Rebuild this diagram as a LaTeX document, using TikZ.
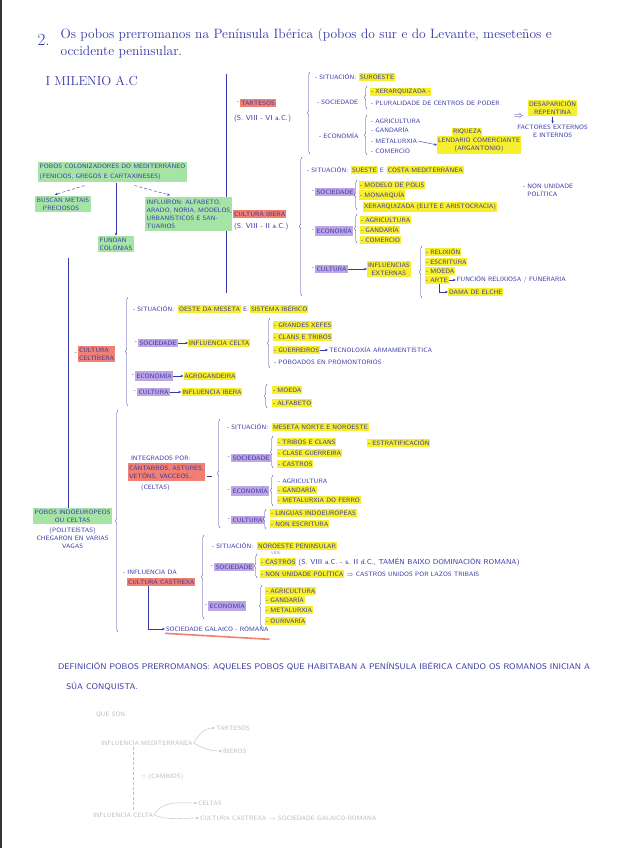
\documentclass[tikz,border=0pt]{standalone}
\usepackage{fontspec}
\usepackage{tikz}
\usetikzlibrary{arrows.meta, positioning, decorations.pathreplacing}
\definecolor{ink}{RGB}{55, 55, 165}
\definecolor{hlyellow}{RGB}{247, 238, 45}
\definecolor{hlpurple}{RGB}{190, 165, 228}
\definecolor{hlred}{RGB}{240, 128, 115}
\definecolor{hlgreen}{RGB}{165, 228, 165}
\definecolor{fadegray}{RGB}{190, 190, 195}
\newcommand{\hand}{\sffamily\fontsize{6.3}{8}\selectfont}

\begin{document}
\begin{tikzpicture}[x=1pt, y=-1pt, >={Stealth[length=3pt, width=2.4pt]},
  lbl/.style={font=\hand, text=ink, inner sep=0.8pt, anchor=west},
  hly/.style={lbl, fill=hlyellow, inner ysep=1.6pt},
  hlp/.style={lbl, fill=hlpurple, inner ysep=2pt, inner xsep=1.5pt},
  hlr/.style={lbl, fill=hlred, inner ysep=1.6pt},
  hlg/.style={lbl, fill=hlgreen, inner ysep=1.8pt, inner xsep=1.5pt},
  faint/.style={lbl, text=fadegray},
  ticklbl/.style={font=\hand, text=ink, inner sep=0.6pt},
  lead/.style={label={[ticklbl]left:-}},
  brk/.style={ink, thin, decorate, decoration={brace, amplitude=2.5pt}},
  link/.style={ink, thin, ->}]

  % page
  \fill[white] (0,0) rectangle (616,848);
  \useasboundingbox (0,0) rectangle (616,848);
  \draw[black!80, line width=2pt] (1,0) -- (1,848);

  % ---------- Title ----------
  \node[text=ink, font=\fontsize{17}{17}\selectfont, anchor=west] (num) at (34,40) {2.};
  \node[text=ink, font=\fontsize{13.5}{17}\selectfont, anchor=west, align=left] (title) at (57,43)
    {Os pobos prerromanos na Península Ibérica (pobos do sur e do Levante, meseteños e\\occidente peninsular.};
  \node[text=ink, font=\fontsize{13}{13}\selectfont, anchor=west] (mil) at (42,81) {I MILENIO A.C};

  % trunks
  \draw[ink] (226,74) -- (226,293);
  \coordinate (trunk) at (68,258);

  % ---------- Colonizadores ----------
  \node[hlg, align=left] (colon) at (38,172) {POBOS COLONIZADORES DO MEDITERRÁNEO\\[2pt](FENICIOS, GREGOS E CARTAXINESES)};
  \node[hlg, align=left] (busc) at (35,204) {BUSCAN METAIS\\\quad PRECIOSOS};
  \node[hlg, align=left] (fund) at (98,244) {FUNDAN\\COLONIAS};
  \node[hlg, align=left] (infl) at (145,214) {INFLUÍRON: ALFABETO,\\ARADO, NORIA, MODELOS\\URBANÍSTICOS E SAN-\\TUARIOS};
  \draw[link, densely dashed] ([xshift=-28pt, yshift=-3pt]colon.south) -- ([xshift=-8pt, yshift=1pt]busc.north);
  \draw[link] (colon.south -| fund.north) -- (fund.north);
  \draw[link, densely dashed] ([xshift=22pt, yshift=-3pt]colon.south) -- ([xshift=25pt, yshift=2pt]infl.north west);

  % ---------- Tartesos ----------
  \node[hlr, lead] (tar) at (240,103) {TARTESOS};
  \node[lbl, font=\sffamily\fontsize{7.2}{8}\selectfont] (tarDate) at (233,119) {(S. VIII - VI a.C.)};
  \draw[brk] (310,154) -- (310,72);
  \node[lbl] (tarSit) at (314,77) {- SITUACIÓN:};
  \node[hly, right=2pt of tarSit] (tarSit1) {SUROESTE};
  \node[lbl] (tarSoc) at (316,102) {- SOCIEDADE};
  \draw[brk] (367,109) -- (367,86);
  \node[hly] (tarSoc1) at (370,92) {- XERARQUIZADA -};
  \node[lbl] (tarSoc2) at (370,103) {- PLURALIDADE DE CENTROS DE PODER};
  \node[lbl] (tarEco) at (318,136) {- ECONOMÍA};
  \draw[brk] (367,155) -- (367,115);
  \node[lbl] (tarEco1) at (370,121) {- AGRICULTURA};
  \node[lbl] (tarEco2) at (370,130) {- GANDARÍA};
  \node[lbl] (tarEco3) at (370,141) {- METALURXIA};
  \node[lbl] (tarEco4) at (370,151) {- COMERCIO};
  \node[hly] (riq) at (452,132) {RIQUEZA};
  \node[hly, align=center] (lend) at (437,145) {LENDARIO COMERCIANTE\\(ARGANTONIO)};
  \draw[link] (tarEco3.east) -- (lend.west);
  \node[text=ink, anchor=west] (impl) at (510,117) {$\Rightarrow$};
  \node[hly, align=center] (desap) at (528,108) {DESAPARICIÓN\\REPENTINA};
  \node[lbl, anchor=north, align=center, below=7pt of desap] (fact) {FACTORES EXTERNOS\\E INTERNOS};
  \draw[link] (desap) -- (fact);

  % ---------- Cultura ibera ----------
  \node[hlr, lead] (ibe) at (233,214) {CULTURA IBERA};
  \node[lbl, font=\sffamily\fontsize{7.2}{8}\selectfont] (ibeDate) at (233,227) {(S. VIII - II a.C.)};
  \draw[brk] (302,296) -- (302,157);
  \node[lbl] (ibeSit) at (306,170) {- SITUACIÓN:};
  \node[hly, right=2pt of ibeSit] (ibeSit1) {SUESTE};
  \node[lbl, right=1pt of ibeSit1] (ibeSitE) {E};
  \node[hly, right=2pt of ibeSitE] (ibeSit2) {COSTA MEDITERRÁNEA};
  \node[hlp, lead] (ibeSoc) at (315,192) {SOCIEDADE};
  \draw[brk] (357,210) -- (357,180);
  \node[hly] (ibeSoc1) at (359,185) {- MODELO DE POLIS};
  \node[hly] (ibeSoc2) at (359,195) {- MONARQUÍA};
  \node[hly] (ibeSoc3) at (363,207) {XERARQUIZADA (ELITE E ARISTOCRACIA)};
  \node[lbl, align=left] (ibeNon) at (522,190) {- NON UNIDADE\\\ \ POLÍTICA};
  \node[hlp, lead] (ibeEco) at (315,231) {ECONOMÍA};
  \draw[brk] (357,243) -- (357,214);
  \node[hly] (ibeEco1) at (360,220) {- AGRICULTURA};
  \node[hly] (ibeEco2) at (360,230) {- GANDARÍA};
  \node[hly] (ibeEco3) at (360,240) {- COMERCIO};
  \node[hlp, lead] (ibeCul) at (315,269) {CULTURA};
  \node[hly, align=center] (ibeInf) at (367,269) {INFLUENCIAS\\EXTERNAS};
  \draw[link] (ibeCul) -- (ibeInf);
  \draw[brk] (422,298) -- (422,246);
  \node[hly] (ibeCul1) at (425,252) {- RELIXIÓN};
  \node[hly] (ibeCul2) at (425,262) {- ESCRITURA};
  \node[hly] (ibeCul3) at (425,271) {- MOEDA};
  \node[hly] (ibeArte) at (425,280) {- ARTE};
  \node[lbl, right=7pt of ibeArte] (ibeFun) {FUNCIÓN RELIXIOSA / FUNERARIA};
  \draw[link] (ibeArte) -- (ibeFun);
  \node[hly] (dama) at (448,292) {DAMA DE ELCHE};
  \draw[link] ([xshift=14pt]ibeArte.south west) |- (dama.west);

  % ---------- Cultura celtibera ----------
  \node[hlr, lead, align=left] (celt) at (78,354) {CULTURA\\CELTÍBERA};
  \draw[brk] (128,406) -- (128,297);
  \node[lbl] (celSit) at (132,309) {- SITUACIÓN:};
  \node[hly, right=3pt of celSit] (celSit1) {OESTE DA MESETA};
  \node[lbl, right=1pt of celSit1] (celSitE) {E};
  \node[hly, right=2pt of celSitE] (celSit2) {SISTEMA IBÉRICO};
  \node[hlp, lead] (celSoc) at (138,343) {SOCIEDADE};
  \node[hly, right=10pt of celSoc] (celInf) {INFLUENCIA CELTA};
  \draw[link] (celSoc) -- (celInf);
  \draw[brk] (270,368) -- (270,318);
  \node[hly] (celSoc1) at (273,325) {- GRANDES XEFES};
  \node[hly] (celSoc2) at (273,337) {- CLANS E TRIBOS};
  \node[hly] (celSoc3) at (273,350) {- GUERREIROS};
  \node[lbl, right=8pt of celSoc3] (celTec) {TECNOLOXÍA ARMAMENTÍSTICA};
  \draw[link] (celSoc3) -- (celTec);
  \node[lbl] (celSoc4) at (273,362) {- POBOADOS EN PROMONTORIOS};
  \node[hlp, lead] (celEco) at (135,376) {ECONOMÍA};
  \node[hly, right=10pt of celEco] (celAgro) {AGROGANDEIRA};
  \draw[link] (celEco) -- (celAgro);
  \node[hlp, lead] (celCul) at (137,392) {CULTURA};
  \node[hly, right=11pt of celCul] (celIbe) {INFLUENCIA IBERA};
  \draw[link] (celCul) -- (celIbe);
  \draw[brk] (267,408) -- (267,384);
  \node[hly] (celCul1) at (272,390) {- MOEDA};
  \node[hly] (celCul2) at (272,403) {- ALFABETO};

  % ---------- Pobos indoeuropeos ----------
  \node[hlg, align=center] (indo) at (33,516) {POBOS INDOEUROPEOS\\OU CELTAS};
  \node[lbl, anchor=north, align=center, below=2pt of indo] (indoNote) {(POLITEÍSTAS)\\CHEGARON EN VARIAS\\VAGAS};
  \draw[ink] (trunk) -- (trunk |- indo.north);
  \draw[brk] (118,632) -- (118,410);

  % celtas
  \node[lbl] (celtInt) at (130,458) {INTEGRADOS POR:};
  \node[hlr, align=left] (celtPob) at (128,472) {CÁNTABROS, ASTURES,\\VETÓNS, VACCEOS...};
  \node[lbl] (celtCel) at (140,488) {(CELTAS)};
  \draw[ink] ([xshift=2pt, yshift=-4pt]celtPob.east) -- ([xshift=7pt, yshift=-4pt]celtPob.east);
  \draw[brk] (220,528) -- (220,419);
  \node[lbl] (ceSit) at (226,427) {- SITUACIÓN:};
  \node[hly, right=3pt of ceSit] (ceSit1) {MESETA NORTE E NOROESTE};
  \node[hlp, lead] (ceSoc) at (231,458) {SOCIEDADE};
  \draw[brk] (273,468) -- (273,436);
  \node[hly] (ceSoc1) at (277,442) {- TRIBOS E CLANS};
  \node[hly] (ceSoc2) at (277,453) {- CLASE GUERREIRA};
  \node[hly] (ceSoc3) at (277,464) {- CASTROS};
  \node[hly] (ceEst) at (367,443) {- ESTRATIFICACIÓN};
  \node[hlp, lead] (ceEco) at (231,491) {ECONOMÍA};
  \draw[brk] (273,506) -- (273,475);
  \node[lbl] (ceEco1) at (277,481) {- AGRICULTURA};
  \node[hly] (ceEco2) at (277,490) {- GANDARÍA};
  \node[hly] (ceEco3) at (277,500) {- METALURXIA DO FERRO};
  \node[hlp, lead] (ceCul) at (231,520) {CULTURA};
  \draw[brk] (266,529) -- (266,509);
  \node[hly] (ceCul1) at (270,513) {- LINGUAS INDOEUROPEAS};
  \node[hly] (ceCul2) at (270,524) {- NON ESCRITURA};

  % cultura castrexa
  \node[lbl] (casInf) at (122,572) {- INFLUENCIA DA};
  \node[hlr] (cas) at (127,582) {CULTURA CASTREXA};
  \draw[brk] (204,619) -- (204,535);
  \node[lbl] (caSit) at (211,546) {- SITUACIÓN:};
  \node[hly, right=3pt of caSit] (caSit1) {NOROESTE PENINSULAR};
  \node[hlp, lead] (caSoc) at (214,567) {SOCIEDADE};
  \draw[brk] (257,578) -- (257,554);
  \node[lbl, font=\sffamily\fontsize{4}{4}\selectfont, text=ink!60] (vide) at (270,553) {VIDE};
  \node[hly] (caSoc1) at (260,562) {- CASTROS};
  \node[lbl, right=1pt of caSoc1, font=\sffamily\fontsize{7.2}{8}\selectfont] (caSocD) {(S. VIII a.C. - s. II d.C., TAMÉN BAIXO DOMINACIÓN ROMANA)};
  \node[hly] (caSoc2) at (260,574) {- NON UNIDADE POLÍTICA};
  \node[lbl, right=1pt of caSoc2] (caLaz) {$\Rightarrow$ CASTROS UNIDOS POR LAZOS TRIBAIS};
  \node[hlp, lead] (caEco) at (208,606) {ECONOMÍA};
  \draw[brk] (262,627) -- (262,585);
  \node[hly] (caEco1) at (265,591) {- AGRICULTURA};
  \node[hly] (caEco2) at (265,600) {- GANDARÍA};
  \node[hly] (caEco3) at (265,610) {- METALURXIA};
  \node[hly] (caEco4) at (265,621) {- OURIVARÍA};
  \node[lbl] (galRom) at (165,629) {SOCIEDADE GALAICO - ROMANA};
  \draw[link] ([xshift=21pt]cas.south west) |- (galRom.west);
  \draw[hlred, line width=1.6pt] ([yshift=-1pt]galRom.south west) -- ([yshift=-7pt]galRom.south east);

  % ---------- Definition ----------
  \node[lbl, font=\sffamily\fontsize{8.3}{20}\selectfont, align=left] (def) at (57,676)
    {DEFINICIÓN POBOS PRERROMANOS: AQUELES POBOS QUE HABITABAN A PENÍNSULA IBÉRICA CANDO OS ROMANOS INICIAN A\\\quad SÚA CONQUISTA.};

  % ---------- Faded notes ----------
  \node[faint] (fque) at (95,715) {QUE SON};
  \node[faint] (fmed) at (100,743) {INFLUENCIA MEDITERRÁNEA};
  \node[faint] (ftar) at (215,728) {TARTESOS};
  \node[faint] (fibe) at (222,751) {ÍBEROS};
  \draw[fadegray, ->] (fmed.east) to[out=60, in=180] (ftar.west);
  \draw[fadegray, ->] (fmed.east) to[out=-30, in=180] (fibe.west);
  \node[faint] (fcel) at (92,815) {INFLUENCIA CELTA};
  \draw[fadegray, densely dashed] ([xshift=33pt]fmed.south west) -- ([xshift=41pt]fcel.north west);
  \node[faint] (fcam) at (140,777) {= (CAMBIOS)};
  \node[faint] (fcelt) at (197,803) {CELTAS};
  \node[faint] (fcas) at (199,818) {CULTURA CASTREXA $\rightarrow$ SOCIEDADE GALAICO-ROMANA};
  \draw[fadegray, ->] (fcel.east) to[out=60, in=180] (fcelt.west);
  \draw[fadegray, ->] (fcel.east) to[out=-20, in=180] (fcas.west);

\end{tikzpicture}
\end{document}
